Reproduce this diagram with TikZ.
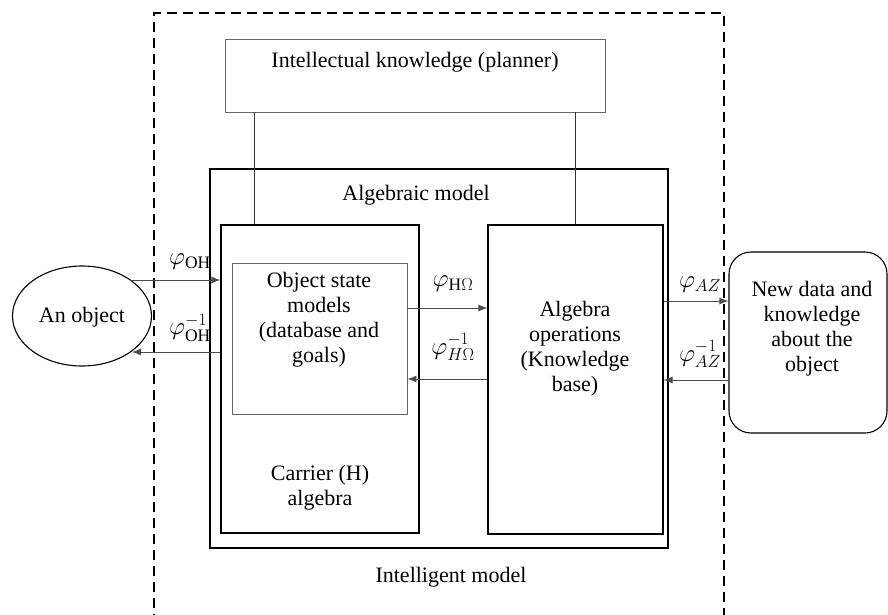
\documentclass[tikz,border=0pt]{standalone}
\usepackage{fontspec}
\setmainfont{Liberation Serif}
\newfontfamily\tnr{Liberation Serif}
\usetikzlibrary{arrows.meta,shapes.geometric,fit}
\begin{document}
\begin{tikzpicture}[x=1pt,y=-1pt,
  txt/.style={font=\tnr\fontsize{22}{25}\selectfont, align=center, inner sep=0pt},
  lbl/.style={font=\tnr\fontsize{25}{30}\selectfont, inner sep=0pt},
  thickbox/.style={draw, line width=1.3pt, inner sep=0pt},
  thinbox/.style={draw=black!60, line width=0.9pt, inner sep=0pt},
  conn/.style={draw=black!70, line width=0.9pt},
  arr/.style={conn, -{Latex[length=9pt,width=7pt]}}]
\useasboundingbox (0,0) rectangle (888,615);
% outer dashed frame
\node[fit={(154,13)(724,640)}, draw, line width=1.2pt, dash pattern=on 10pt off 6pt, inner sep=0pt] (intel) {};
% boxes
\node[fit={(225,39)(605,112)}, thinbox] (planner) {};
\node[fit={(210,169)(668,548)}, thickbox] (alg) {};
\node[fit={(221,225)(419,533)}, thickbox, line width=1.1pt] (carrier) {};
\node[fit={(232,263)(407,414)}, thinbox] (inner) {};
\node[fit={(488,225)(663,534)}, thickbox, line width=1.1pt] (ops) {};
\node[ellipse, draw, line width=1.1pt, minimum width=139pt, minimum height=100pt, inner sep=0pt] (obj) at (82,316) {};
\node[fit={(729,252)(887,433)}, draw, line width=1.1pt, rounded corners=22pt, inner sep=0pt] (newdata) {};
% texts
\node[txt] (tplanner) at (415,62) {Intellectual knowledge (planner)};
\node[txt] (talg) at (416,195) {Algebraic model};
\node[txt] (tinner) at (319,320) {Object state\\models\\(database and\\goals)};
\node[txt] (tcarrier) at (320,488) {Carrier (H)\\algebra};
\node[txt] (tops) at (575,349) {Algebra\\operations\\(Knowledge\\base)};
\node[txt] (tnew) at (812,329) {New data and\\knowledge\\about the\\object};
\node[txt] (tobj) at (82,317) {An object};
\node[txt] (tintel) at (451,577) {Intelligent model};
% planner links
\coordinate (p1) at (254,0);
\coordinate (p2) at (575,0);
\draw[conn, draw=black!80] (planner.south -| p1) -- (carrier.north -| p1);
\draw[conn, draw=black!80] (planner.south -| p2) -- (ops.north -| p2);
% arrows object <-> carrier
\coordinate (o1) at (130,280);
\coordinate (o2) at (132,352);
\draw[arr] (o1) -- (carrier.west |- o1);
\draw[arr] (carrier.west |- o2) -- (o2);
\node[lbl] (loh) at (190,262) {$\varphi_{\mathrm{OH}}$};
\node[lbl] (lohi) at (190,328) {$\varphi^{-1}_{\mathrm{OH}}$};
% arrows inner <-> ops
\coordinate (h1) at (450,308);
\coordinate (h2) at (450,379);
\draw[arr] (inner.east |- h1) -- (ops.west |- h1);
\draw[arr] (ops.west |- h2) -- (inner.east |- h2);
\node[lbl] (lho) at (453,284) {$\varphi_{\mathrm{H}\Omega}$};
\node[lbl] (lhoi) at (453,347) {$\varphi^{-1}_{H\Omega}$};
% arrows ops <-> newdata
\coordinate (a1) at (700,301);
\coordinate (a2) at (700,380);
\draw[arr] (ops.east |- a1) -- (newdata.west |- a1);
\draw[arr] (newdata.west |- a2) -- (ops.east |- a2);
\node[lbl] (laz) at (700,285) {$\varphi_{AZ}$};
\node[lbl] (lazi) at (700,354) {$\varphi^{-1}_{AZ}$};
\end{tikzpicture}
\end{document}
